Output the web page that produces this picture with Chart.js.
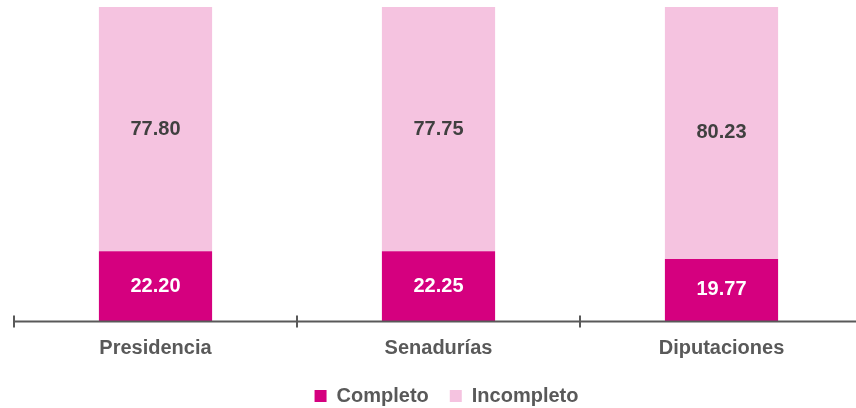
<!DOCTYPE html>
<html>
<head>
<meta charset="utf-8">
<script src="https://cdn.jsdelivr.net/npm/chart.js@4.4.0/dist/chart.umd.min.js"></script>
<style>
    html, body { margin:0; padding:0; background:#fff; overflow:hidden; }
    #wrap { width:870px; height:408px; }
</style>
</head>
<body>
<div id="wrap"><canvas id="chart"></canvas></div>
<script>
const categorias = ['Presidencia', 'Senadurías', 'Diputaciones'];
const completo = [22.20, 22.25, 19.77];
const incompleto = [77.80, 77.75, 80.23];

const rosa = '#D5007F', rosaClaro = '#F5C3E0', gris = '#595959';

// eje x con marcas entre categorias
const ejePlugin = {
    id: 'eje',
    afterLayout(chart) {
        // leyenda un poco a la derecha, como en el original
        if (chart.legend) { chart.legend.left += 8; chart.legend.right += 8; }
    },
    afterDatasetsDraw(chart) {
        const {ctx, chartArea} = chart;
        const n = categorias.length;
        const step = (chartArea.right - chartArea.left) / n;
        const y = chartArea.bottom + 0.5;
        ctx.save();
        ctx.strokeStyle = gris;
        ctx.lineWidth = 2;
        ctx.beginPath();
        ctx.moveTo(chartArea.left, y);
        ctx.lineTo(chartArea.right, y);
        for (let i = 0; i <= n; i++) {
            const x = Math.round(chartArea.left + i * step);
            ctx.moveTo(x, y - 6);
            ctx.lineTo(x, y + 6);
        }
        ctx.stroke();
        ctx.restore();
    }
};

// etiquetas de valores dentro de las barras
const valoresPlugin = {
    id: 'valores',
    afterDatasetsDraw(chart) {
        const {ctx} = chart;
        ctx.save();
        ctx.font = 'bold 20px "Liberation Sans", Arial, sans-serif';
        ctx.textAlign = 'center';
        ctx.textBaseline = 'middle';
        chart.data.datasets.forEach((ds, di) => {
            chart.getDatasetMeta(di).data.forEach((bar, i) => {
                const yc = (bar.y + bar.base) / 2;
                ctx.fillStyle = di === 0 ? '#FFFFFF' : '#404040';
                ctx.fillText(ds.data[i].toFixed(2), bar.x, yc);
            });
        });
        ctx.restore();
    }
};

new Chart(document.getElementById('chart'), {
    type: 'bar',
    data: {
        labels: categorias,
        datasets: [
            {label: 'Completo', data: completo, backgroundColor: rosa, borderWidth: 0},
            {label: 'Incompleto', data: incompleto, backgroundColor: rosaClaro, borderWidth: 0}
        ]
    },
    options: {
        responsive: true,
        maintainAspectRatio: false,
        animation: false,
        layout: {padding: {left: 14, right: 7, top: 7, bottom: -8}},
        datasets: {bar: {barPercentage: 0.4, categoryPercentage: 1}},
        plugins: {
            tooltip: {enabled: false},
            legend: {
                position: 'bottom',
                labels: {
                    boxWidth: 12, boxHeight: 12, padding: 21,
                    color: gris,
                    font: {family: '"Liberation Sans", Arial, sans-serif', size: 20, weight: 'bold'}
                }
            }
        },
        scales: {
            x: {
                stacked: true,
                grid: {display: false, drawTicks: false},
                border: {display: false},
                afterFit(scale) { scale.height -= 10; },
                ticks: {
                    padding: 15,
                    color: gris,
                    font: {family: '"Liberation Sans", Arial, sans-serif', size: 20, weight: 'bold'}
                }
            },
            y: {stacked: true, display: false, min: 0, max: 100}
        }
    },
    plugins: [ejePlugin, valoresPlugin]
});
</script>
</body>
</html>
